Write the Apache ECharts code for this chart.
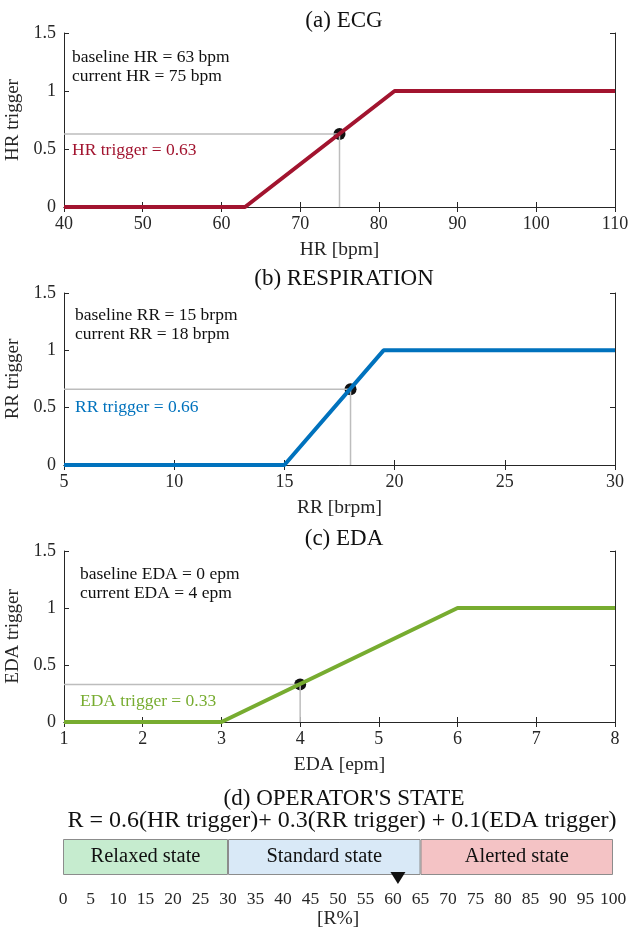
<!DOCTYPE html>
<html>
<head>
<meta charset="utf-8">
<script src="https://cdn.jsdelivr.net/npm/echarts@6/dist/echarts.min.js"></script>
<style>
  html, body { margin: 0; padding: 0; background: #fff; }
  #main { width: 629px; height: 929px; }
</style>
</head>
<body>
<div id="main"></div>
<script>
// trigger curves (x, trigger)
const hrX = [40, 63, 82, 110];
const hrY = [0, 0, 1, 1];
const rrX = [5, 15, 19.5, 30];
const rrY = [0, 0, 1, 1];
const edaX = [1, 3, 6, 8];
const edaY = [0, 0, 1, 1];

// baseline / current readings and the resulting trigger
const baselines = [63, 15, 0];
const currents = [75, 18, 4];
const triggers = [0.63, 0.66, 0.33];
const weights = [0.6, 0.3, 0.1];

// operator state bar
const stateNames = ['Relaxed state', 'Standard state', 'Alerted state'];
const stateWidths = [30, 35, 35];
const stateColors = ['#c6eccf', '#d9e9f7', '#f4c3c5'];

const FONT = '"Liberation Serif", "Times New Roman", serif';
const TXT = '#262626';

const panels = [
    { x: hrX, y: hrY, name: 'HR', unit: 'bpm', title: '(a) ECG', color: '#a2142f', min: 40, max: 110, step: 10, top: 33, height: 174, titleTop: 4, tx: 72, ty: [57, 76, 150] },
    { x: rrX, y: rrY, name: 'RR', unit: 'brpm', title: '(b) RESPIRATION', color: '#0072bd', min: 5, max: 30, step: 5, top: 293, height: 172, titleTop: 262, tx: 75, ty: [315, 334, 407] },
    { x: edaX, y: edaY, name: 'EDA', unit: 'epm', title: '(c) EDA', color: '#77ac30', min: 1, max: 8, step: 1, top: 551, height: 171, titleTop: 522, tx: 80, ty: [574, 593, 701] }
];

const grids = [], xAxes = [], yAxes = [], series = [], titles = [], texts = [];

panels.forEach((p, i) => {
    grids.push({ left: 64, top: p.top, width: 551, height: p.height, outerBoundsMode: 'none', containLabel: false });
    const tickStyle = { show: true, inside: true, length: 5, lineStyle: { color: TXT } };
    const lineStyle = { show: true, lineStyle: { color: TXT, width: 1 } };
    xAxes.push({
        gridIndex: i, type: 'value', min: p.min, max: p.max, interval: p.step,
        name: `${p.name} [${p.unit}]`, nameLocation: 'middle', nameGap: 33,
        nameTextStyle: { fontFamily: FONT, fontSize: 19.5, color: TXT },
        axisLine: lineStyle, axisTick: tickStyle, splitLine: { show: false },
        axisLabel: { fontFamily: FONT, fontSize: 18, color: TXT, margin: 8 }
    });
    xAxes.push({
        gridIndex: i, type: 'value', position: 'top', min: p.min, max: p.max, interval: p.step,
        axisLine: lineStyle, axisTick: tickStyle, axisLabel: { show: false }, splitLine: { show: false }
    });
    yAxes.push({
        gridIndex: i, type: 'value', min: 0, max: 1.5, interval: 0.5,
        name: `${p.name} trigger`, nameLocation: 'middle', nameGap: 35,
        nameTextStyle: { fontFamily: FONT, fontSize: 19, color: TXT },
        axisLine: lineStyle, axisTick: tickStyle, splitLine: { show: false },
        axisLabel: { fontFamily: FONT, fontSize: 18, color: TXT, margin: 8 }
    });
    yAxes.push({
        gridIndex: i, type: 'value', position: 'right', min: 0, max: 1.5, interval: 0.5,
        axisLine: lineStyle, axisTick: tickStyle, axisLabel: { show: false }, splitLine: { show: false }
    });

    const t = triggers[i], c = currents[i];
    // gray guide lines: left axis -> point -> bottom axis
    series.push({
        type: 'line', xAxisIndex: i * 2, yAxisIndex: i * 2, symbol: 'none', silent: true,
        lineStyle: { color: '#bdbdbd', width: 1.5 },
        data: [[p.min, t], [c, t], [c, 0]]
    });
    series.push({
        type: 'line', xAxisIndex: i * 2, yAxisIndex: i * 2, symbol: 'none',
        lineStyle: { color: p.color, width: 4 },
        data: p.x.map((v, k) => [v, p.y[k]])
    });
    series.push({
        type: 'scatter', xAxisIndex: i * 2, yAxisIndex: i * 2, symbolSize: 12,
        itemStyle: { color: '#111', opacity: 1 }, data: [[c, t]]
    });

    titles.push({ text: p.title, left: 339, textAlign: 'center', top: p.titleTop,
        textStyle: { fontFamily: FONT, fontSize: 23, fontWeight: 'normal', color: '#111' } });

    const ann = [
        [`baseline ${p.name} = ${baselines[i]} ${p.unit}`, p.ty[0], '#111'],
        [`current ${p.name} = ${c} ${p.unit}`, p.ty[1], '#111'],
        [`${p.name} trigger = ${t}`, p.ty[2], p.color]
    ];
    ann.forEach(a => texts.push({
        type: 'text', x: p.tx, y: a[1], z: 100,
        style: { text: a[0], font: `17.5px ${FONT}`, fill: a[2], verticalAlign: 'middle' }
    }));
});

// (d) operator's state
const rValue = 100 * weights.reduce((s, w, k) => s + w * triggers[k], 0);
grids.push({ left: 63, top: 839, width: 550, height: 36, outerBoundsMode: 'none', containLabel: false });
xAxes.push({
    gridIndex: 3, type: 'value', min: 0, max: 100, interval: 5,
    name: '[R%]', nameLocation: 'middle', nameGap: 33,
    nameTextStyle: { fontFamily: FONT, fontSize: 19.5, color: TXT },
    axisLine: { show: false }, axisTick: { show: false }, splitLine: { show: false },
    axisLabel: { fontFamily: FONT, fontSize: 17.5, color: TXT, margin: 15 }
});
yAxes.push({ gridIndex: 3, type: 'category', data: ['R'], show: false });
stateNames.forEach((n, k) => {
    series.push({
        type: 'bar', xAxisIndex: 6, yAxisIndex: 6, stack: 'state', barWidth: '100%',
        itemStyle: { color: stateColors[k], borderColor: '#8c8c8c', borderWidth: 1 },
        label: { show: true, position: 'inside', formatter: n, fontFamily: FONT, fontSize: 20.5, color: '#111' },
        data: [stateWidths[k]]
    });
});
series.push({
    type: 'scatter', xAxisIndex: 6, yAxisIndex: 6, symbol: 'triangle', symbolRotate: 180,
    symbolSize: [15, 12], symbolOffset: [0, 21], itemStyle: { color: '#111', opacity: 1 }, z: 10,
    data: [[rValue, 'R']]
});
titles.push({ text: "(d) OPERATOR'S STATE", left: 339, textAlign: 'center', top: 782,
    textStyle: { fontFamily: FONT, fontSize: 23, fontWeight: 'normal', color: '#111' } });
titles.push({ text: `R = ${weights[0]}(HR trigger)+ ${weights[1]}(RR trigger) + ${weights[2]}(EDA trigger)`,
    left: 337, textAlign: 'center', top: 804,
    textStyle: { fontFamily: FONT, fontSize: 24, fontWeight: 'normal', color: '#111' } });

const chart = echarts.init(document.getElementById('main'));
chart.setOption({
    animation: false,
    title: titles,
    grid: grids,
    xAxis: xAxes,
    yAxis: yAxes,
    series: series,
    graphic: texts
});
</script>
</body>
</html>
